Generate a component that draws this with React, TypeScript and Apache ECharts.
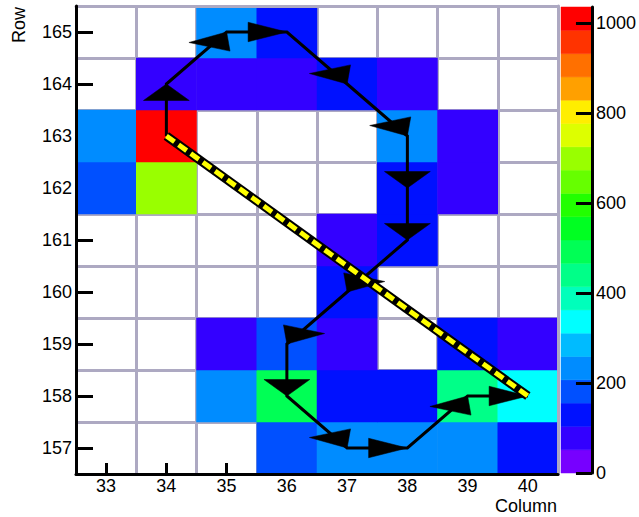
import React, { useEffect, useRef } from 'react';
import * as echarts from 'echarts';

// ---- data ----
const COLUMNS = ['33', '34', '35', '36', '37', '38', '39', '40'];
const ROWS = ['157', '158', '159', '160', '161', '162', '163', '164', '165'];

// counts per row, columns 33..40 (0 = empty cell)
const COUNTS_165 = [0, 0, 230, 130, 0, 0, 0, 0];
const COUNTS_164 = [0, 80, 80, 80, 130, 80, 0, 0];
const COUNTS_163 = [230, 1035, 0, 0, 0, 230, 80, 0];
const COUNTS_162 = [180, 700, 0, 0, 0, 130, 80, 0];
const COUNTS_161 = [0, 0, 0, 0, 80, 130, 0, 0];
const COUNTS_160 = [0, 0, 0, 0, 130, 0, 0, 0];
const COUNTS_159 = [0, 0, 80, 180, 80, 0, 130, 80];
const COUNTS_158 = [0, 0, 230, 490, 130, 130, 440, 340];
const COUNTS_157 = [0, 0, 0, 180, 230, 230, 230, 130];

// color scale
const PALETTE = [
  '#7700ff', '#3300ff', '#0011ff', '#0050ff', '#008cff', '#00bbff', '#00ffff',
  '#00ffbb', '#00ff88', '#00ff55', '#00ff22', '#22ff00', '#66ff00', '#99ff00',
  '#ddff00', '#ffee00', '#ffa000', '#ff7000', '#ff3300', '#ff0000',
];
const Z_MAX = 1035;
const COLORBAR_TICKS = [0, 200, 400, 600, 800, 1000];

// track path (column, row)
const PATH_COLS = ['34', '34', '35', '36', '37', '38', '38', '38', '37', '36', '36', '37', '38', '39', '40'];
const PATH_ROWS = ['163', '164', '165', '165', '164', '163', '162', '161', '160', '159', '158', '157', '157', '158', '158'];
// straight fit line (column, row)
const FIT_COLS = ['34', '40'];
const FIT_ROWS = ['163', '158'];

const FONT = 'Liberation Sans';
const GRID_COLOR = '#ada9c2';

const ROW_COUNTS = [COUNTS_157, COUNTS_158, COUNTS_159, COUNTS_160, COUNTS_161, COUNTS_162, COUNTS_163, COUNTS_164, COUNTS_165];

function arrowHead(p: number[], q: number[]) {
  const SX = 2.35, L = 16.5, W = 9.75;
  const du = (q[0] - p[0]) / SX;
  const dv = q[1] - p[1];
  const len = Math.hypot(du, dv) || 1;
  const ux = du / len, uy = dv / len;
  const bu = q[0] / SX - L * ux;
  const bv = q[1] - L * uy;
  const c1 = [(bu - W * uy) * SX, bv + W * ux];
  const c2 = [(bu + W * uy) * SX, bv - W * ux];
  return [q, c1, c2];
}

export default function App() {
  const ref = useRef<HTMLDivElement>(null);
  useEffect(() => {
    const chart = echarts.init(ref.current!, null, { renderer: 'svg' });

    const heatData: number[][] = [];
    ROW_COUNTS.forEach((vals, r) => vals.forEach((v, c) => { if (v > 0) heatData.push([c, r, v]); }));

    const pieces = PALETTE.map((color, i) => {
      const lo = (i * Z_MAX) / PALETTE.length;
      const hi = ((i + 1) * Z_MAX) / PALETTE.length;
      return i === PALETTE.length - 1 ? { gte: lo, lte: hi, color } : { gte: lo, lt: hi, color };
    });

    const labelStyle = { fontFamily: FONT, fontSize: 18, color: '#000' };

    const option: any = {
      animation: false,
      backgroundColor: '#fff',
      textStyle: { fontFamily: FONT },
      grid: [
        { left: 76, top: 6, width: 482, height: 468 },
        { left: 561, top: 7, width: 32, height: 466 },
      ],
      xAxis: [
        {
          type: 'category', gridIndex: 0, data: COLUMNS, position: 'bottom', z: 0,
          axisLine: { show: false },
          axisTick: { show: true, inside: true, alignWithLabel: true, interval: 0, length: 11, lineStyle: { color: '#000', width: 3 } },
          axisLabel: { ...labelStyle, interval: 0, margin: 3 },
          splitLine: { show: true, interval: 0, lineStyle: { color: GRID_COLOR, width: 3 } },
        },
        {
          type: 'category', gridIndex: 0, data: COLUMNS, position: 'top', z: 5,
          axisLine: { show: true, onZero: false, lineStyle: { color: GRID_COLOR, width: 3 } },
          axisTick: { show: false }, axisLabel: { show: false }, splitLine: { show: false },
        },
        {
          type: 'category', gridIndex: 0, data: COLUMNS, position: 'bottom', z: 6,
          axisLine: { show: true, onZero: false, lineStyle: { color: '#000', width: 3 } },
          axisTick: { show: false }, axisLabel: { show: false }, splitLine: { show: false },
        },
        { type: 'value', gridIndex: 1, min: 0, max: 1, show: false },
      ],
      yAxis: [
        {
          type: 'category', gridIndex: 0, data: ROWS, position: 'left', z: 0,
          axisLine: { show: false },
          axisTick: { show: true, inside: true, alignWithLabel: true, interval: 0, length: 17, lineStyle: { color: '#000', width: 3 } },
          axisLabel: { ...labelStyle, interval: 0, margin: 4 },
          splitLine: { show: true, interval: 0, lineStyle: { color: GRID_COLOR, width: 3 } },
        },
        {
          type: 'category', gridIndex: 0, data: ROWS, position: 'right', z: 5,
          axisLine: { show: true, onZero: false, lineStyle: { color: GRID_COLOR, width: 3 } },
          axisTick: { show: false }, axisLabel: { show: false }, splitLine: { show: false },
        },
        {
          type: 'category', gridIndex: 0, data: ROWS, position: 'left', z: 6,
          axisLine: { show: true, onZero: false, lineStyle: { color: '#000', width: 3 } },
          axisTick: { show: false }, axisLabel: { show: false }, splitLine: { show: false },
        },
        {
          type: 'value', gridIndex: 1, min: 0, max: Z_MAX, position: 'right', z: 6,
          axisLine: { show: true, onZero: false, lineStyle: { color: '#000', width: 3 } },
          axisTick: { show: true, inside: true, length: 16, lineStyle: { color: '#000', width: 3 }, customValues: COLORBAR_TICKS },
          axisLabel: { ...labelStyle, margin: 4, customValues: COLORBAR_TICKS, formatter: (v: number) => String(v) },
          splitLine: { show: false },
        },
      ],
      visualMap: {
        type: 'piecewise', show: false, seriesIndex: 0, dimension: 2, pieces,
      },
      series: [
        {
          type: 'heatmap', xAxisIndex: 0, yAxisIndex: 0, data: heatData, z: 2,
          itemStyle: { borderWidth: 0 }, emphasis: { disabled: true }, silent: true,
        },
        {
          type: 'custom', xAxisIndex: 0, yAxisIndex: 0, data: [[0, 0]], z: 10, clip: false, silent: true,
          renderItem: (_params: any, api: any) => {
            const pts = PATH_COLS.map((c, i) => api.coord([COLUMNS.indexOf(c), ROWS.indexOf(PATH_ROWS[i])]));
            const children: any[] = [];
            children.push({
              type: 'polyline', shape: { points: pts },
              style: { stroke: '#000', lineWidth: 3, fill: null },
            });
            for (let i = 1; i < pts.length; i++) {
              children.push({
                type: 'polygon', shape: { points: arrowHead(pts[i - 1], pts[i]) },
                style: { fill: '#000', stroke: '#000', lineWidth: 0.5 },
              });
            }
            const a = api.coord([COLUMNS.indexOf(FIT_COLS[0]), ROWS.indexOf(FIT_ROWS[0])]);
            const b = api.coord([COLUMNS.indexOf(FIT_COLS[1]), ROWS.indexOf(FIT_ROWS[1])]);
            children.push({
              type: 'line', shape: { x1: a[0], y1: a[1], x2: b[0], y2: b[1] },
              style: { stroke: '#000', lineWidth: 9 },
            });
            children.push({
              type: 'line', shape: { x1: a[0], y1: a[1], x2: b[0], y2: b[1] },
              style: { stroke: '#ffff00', lineWidth: 5, lineDash: [10, 5] },
            });
            return { type: 'group', children };
          },
        },
        {
          type: 'custom', xAxisIndex: 3, yAxisIndex: 3, z: 2, silent: true,
          data: PALETTE.map((_c, i) => [0, i]),
          renderItem: (_params: any, api: any) => {
            const i = api.value(1);
            const lo = (i * Z_MAX) / PALETTE.length;
            const hi = ((i + 1) * Z_MAX) / PALETTE.length;
            const p0 = api.coord([0, lo]);
            const p1 = api.coord([1, hi]);
            return {
              type: 'rect',
              shape: { x: p0[0], y: p1[1], width: p1[0] - p0[0], height: p0[1] - p1[1] },
              style: { fill: PALETTE[i], stroke: PALETTE[i], lineWidth: 0.5 },
            };
          },
        },
      ],
      graphic: [
        {
          type: 'text', x: 557, y: 497,
          style: { text: 'Column', fontFamily: FONT, fontSize: 18, fill: '#000', textAlign: 'right', textVerticalAlign: 'top' },
        },
        {
          type: 'text', x: 19, y: 7, rotation: Math.PI / 2,
          style: { text: 'Row', fontFamily: FONT, fontSize: 18, fill: '#000', textAlign: 'right', textVerticalAlign: 'middle' },
        },
      ],
    };

    chart.setOption(option);
    return () => chart.dispose();
  }, []);

  return (
    <div
      ref={ref}
      style={{ position: 'fixed', left: 0, top: 0, width: 639, height: 517, background: '#fff' }}
    />
  );
}
